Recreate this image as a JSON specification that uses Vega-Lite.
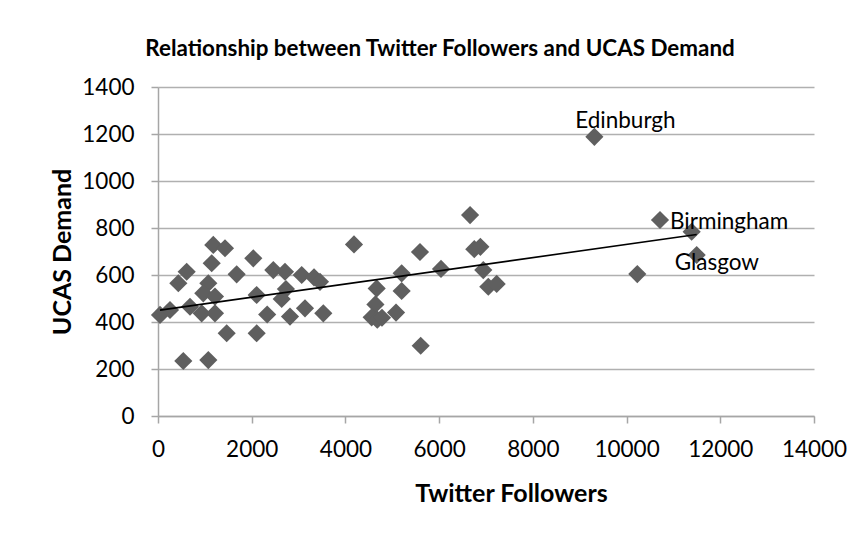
{
  "$schema": "https://vega.github.io/schema/vega-lite/v6.json",
  "width": 656,
  "height": 329,
  "autosize": {"type": "none"},
  "padding": {"left": 158, "top": 87, "right": 48, "bottom": 117},
  "background": "white",
  "title": {
    "text": "Relationship between Twitter Followers and UCAS Demand",
    "font": "Lato",
    "fontSize": 22.4,
    "fontWeight": "bold",
    "color": "black",
    "anchor": "middle",
    "frame": "group",
    "dx": -46,
    "offset": 16
  },
  "config": {
    "view": {"stroke": null},
    "axis": {
      "labelFont": "Lato",
      "labelFontSize": 22.5,
      "labelColor": "black",
      "titleFont": "Lato",
      "titleFontSize": 25,
      "titleFontWeight": "bold",
      "titleColor": "black",
      "domainColor": "#a6a6a6",
      "domainWidth": 1.5,
      "tickColor": "#a6a6a6",
      "tickWidth": 1.5,
      "tickSize": 7,
      "gridColor": "#b0b0b0",
      "gridWidth": 1.5
    }
  },
  "data": {
    "values": [
      {"followers": 43, "demand": 430},
      {"followers": 256, "demand": 451},
      {"followers": 434, "demand": 565},
      {"followers": 612, "demand": 614},
      {"followers": 683, "demand": 465},
      {"followers": 540, "demand": 234},
      {"followers": 1074, "demand": 238},
      {"followers": 1180, "demand": 728},
      {"followers": 1430, "demand": 714},
      {"followers": 1146, "demand": 650},
      {"followers": 1074, "demand": 565},
      {"followers": 967, "demand": 522},
      {"followers": 1216, "demand": 508},
      {"followers": 932, "demand": 437},
      {"followers": 1216, "demand": 437},
      {"followers": 1466, "demand": 352},
      {"followers": 1679, "demand": 603},
      {"followers": 2034, "demand": 671},
      {"followers": 2106, "demand": 515},
      {"followers": 2330, "demand": 432},
      {"followers": 2106, "demand": 352},
      {"followers": 2461, "demand": 621},
      {"followers": 2710, "demand": 614},
      {"followers": 3067, "demand": 600},
      {"followers": 3330, "demand": 590},
      {"followers": 3457, "demand": 571},
      {"followers": 2730, "demand": 540},
      {"followers": 2640, "demand": 498},
      {"followers": 2817, "demand": 423},
      {"followers": 3137, "demand": 458},
      {"followers": 3528, "demand": 437},
      {"followers": 4183, "demand": 730},
      {"followers": 4667, "demand": 543},
      {"followers": 4640, "demand": 475},
      {"followers": 4560, "demand": 420},
      {"followers": 4680, "demand": 410},
      {"followers": 4780, "demand": 418},
      {"followers": 5080, "demand": 440},
      {"followers": 5200, "demand": 607},
      {"followers": 5591, "demand": 698},
      {"followers": 5200, "demand": 532},
      {"followers": 5606, "demand": 299},
      {"followers": 6040, "demand": 626},
      {"followers": 6660, "demand": 855},
      {"followers": 6750, "demand": 710},
      {"followers": 6880, "demand": 720},
      {"followers": 6942, "demand": 621},
      {"followers": 7049, "demand": 550},
      {"followers": 7228, "demand": 562},
      {"followers": 9313, "demand": 1188, "label": "Edinburgh"},
      {"followers": 10713, "demand": 834, "label": "Birmingham"},
      {"followers": 11389, "demand": 784},
      {"followers": 11496, "demand": 685, "label": "Glasgow"},
      {"followers": 10229, "demand": 604}
    ]
  },
  "encoding": {
    "x": {
      "field": "followers",
      "type": "quantitative",
      "title": "Twitter Followers",
      "scale": {"domain": [0, 14000], "nice": false},
      "axis": {"values": [0, 2000, 4000, 6000, 8000, 10000, 12000, 14000], "format": "d", "grid": false, "labelPadding": 15, "titlePadding": 21, "titleX": 353, "labelFlush": false}
    },
    "y": {
      "field": "demand",
      "type": "quantitative",
      "title": "UCAS Demand",
      "scale": {"domain": [0, 1400], "nice": false},
      "axis": {"values": [0, 200, 400, 600, 800, 1000, 1200, 1400], "format": "d", "grid": true, "labelPadding": 17, "titlePadding": 6, "labelFlush": false}
    }
  },
  "layer": [
    {
      "mark": {"type": "point", "shape": "diamond", "filled": true, "color": "#5f5f5f", "opacity": 1, "size": 330}
    },
    {
      "transform": [{"regression": "demand", "on": "followers"}],
      "mark": {"type": "line", "color": "black", "strokeWidth": 1.6}
    },
    {
      "transform": [{"filter": "datum.label === 'Edinburgh'"}],
      "mark": {"type": "text", "font": "Lato", "fontSize": 22.5, "color": "black", "align": "center", "baseline": "middle", "dx": 31, "dy": -16},
      "encoding": {"text": {"field": "label"}}
    },
    {
      "transform": [{"filter": "datum.label === 'Birmingham'"}],
      "mark": {"type": "text", "font": "Lato", "fontSize": 22.5, "color": "black", "align": "left", "baseline": "middle", "dx": 10, "dy": 2},
      "encoding": {"text": {"field": "label"}}
    },
    {
      "transform": [{"filter": "datum.label === 'Glasgow'"}],
      "mark": {"type": "text", "font": "Lato", "fontSize": 22.5, "color": "black", "align": "left", "baseline": "middle", "dx": -22, "dy": 8},
      "encoding": {"text": {"field": "label"}}
    }
  ]
}
